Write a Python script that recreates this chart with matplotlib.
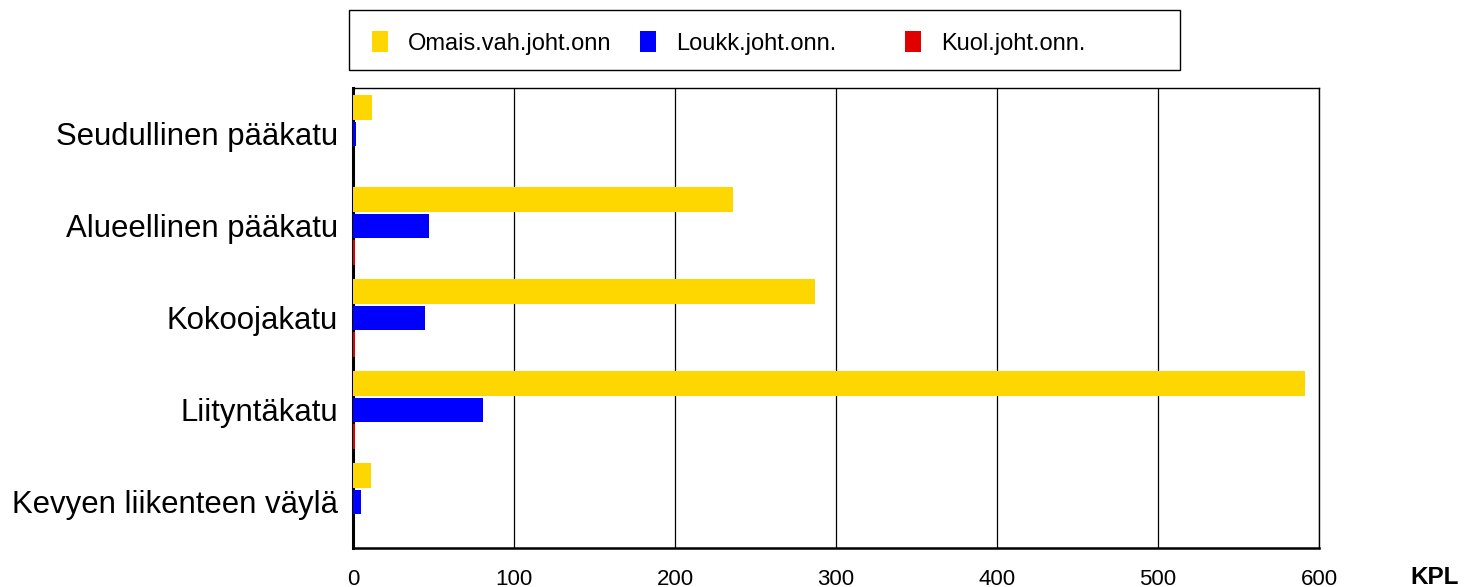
import matplotlib
matplotlib.use('Agg')
import matplotlib.pyplot as plt
from matplotlib.patches import Rectangle
import numpy as np

plt.rcParams['font.family'] = ['Liberation Sans', 'DejaVu Sans']

categories = ["Seudullinen pääkatu", "Alueellinen pääkatu", "Kokoojakatu",
              "Liityntäkatu", "Kevyen liikenteen väylä"]
series_names = ["Omais.vah.joht.onn", "Loukk.joht.onn.", "Kuol.joht.onn."]
omais = [12, 236, 287, 591, 11]
loukk = [2, 47, 45, 81, 5]
kuol = [0, 1, 1, 1, 0]
x_ticks = [0, 100, 200, 300, 400, 500, 600]

colors = ['#FFD700', '#0000FF', '#E00000']

fig = plt.figure(figsize=(14.66, 5.87), dpi=100, facecolor='white')
ax = fig.add_axes([353/1466, 1 - 548/587, (1319 - 353)/1466, (548 - 88)/587])

y = np.arange(len(categories))
off = 0.288
h = 0.266
bars = []
for k, (vals, col) in enumerate(zip([omais, loukk, kuol], colors)):
    b = ax.barh(y + (k - 1) * off, vals, height=h, color=col, zorder=5, linewidth=0)
    bars.append(b)

ax.set_xlim(0, 600)
ax.set_ylim(len(categories) - 0.5, -0.5)
ax.set_xticks(x_ticks)
ax.set_xticklabels([str(t) for t in x_ticks], fontsize=16)
ax.set_yticks(y)
ax.set_yticklabels(categories, fontsize=22.4)
ax.tick_params(axis='both', length=0)
ax.tick_params(axis='x', pad=15)
ax.tick_params(axis='y', pad=11)
ax.grid(axis='x', color='black', linewidth=0.9, zorder=1)

for side in ['top', 'right']:
    ax.spines[side].set_linewidth(1.0)
ax.spines['left'].set_linewidth(2.2)
ax.spines['bottom'].set_linewidth(1.8)
for s in ax.spines.values():
    s.set_color('black')
    s.set_zorder(4)

fig.text(1435/1466, 1 - 577/587, "KPL", fontsize=17.5, fontweight='bold',
         ha='center', va='center')

# legend frame
fig.patches.append(Rectangle((349/1466, 1 - 70/587), 831/1466, 60/587,
                             transform=fig.transFigure, fill=False,
                             edgecolor='black', linewidth=1.0))
legend_x = [372, 640, 905]
for lx, b, name in zip(legend_x, bars, series_names):
    fig.legend([b], [name], loc='center left',
               bbox_to_anchor=(lx/1466, 1 - 43/587),
               frameon=False, fontsize=17, handlelength=0.68, handleheight=0.95,
               handletextpad=0.85, borderpad=0, borderaxespad=0)

plt.savefig('out.png', dpi=100, facecolor='white')
plt.close()
